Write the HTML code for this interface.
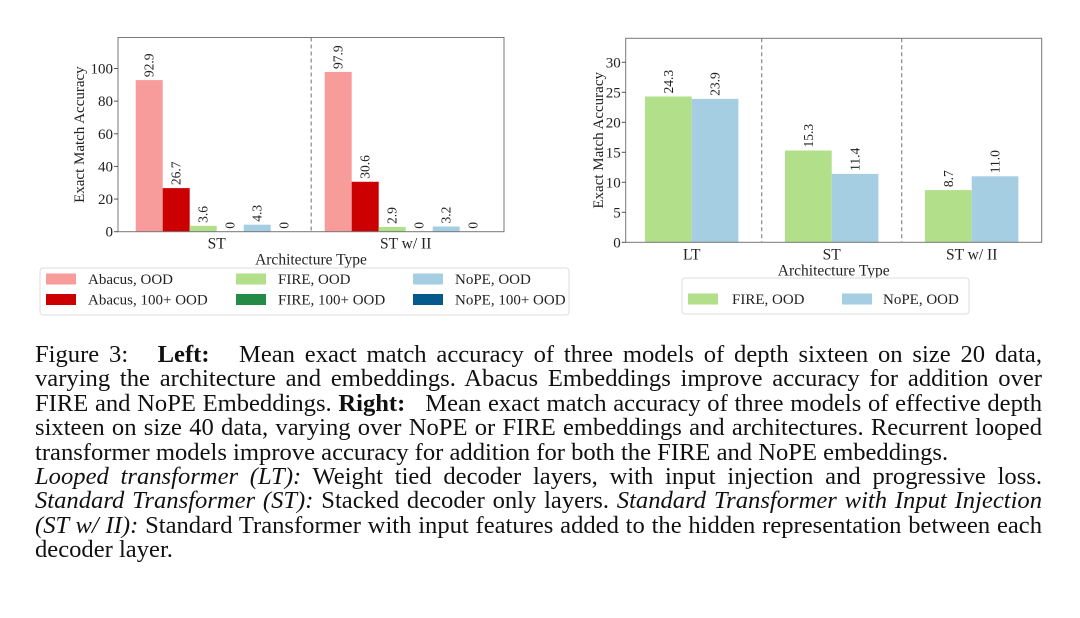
<!DOCTYPE html>
<html><head><meta charset="utf-8">
<style>
html,body{margin:0;padding:0;background:#fff;}
body{width:1080px;height:618px;position:relative;overflow:hidden;font-family:"Liberation Serif",serif;}
svg{position:absolute;left:0;top:0;}
svg text{font-family:"Liberation Serif",serif;fill:#222;}
.cap{position:absolute;left:35px;width:1007px;font-size:24.6px;line-height:24.4px;height:24.4px;color:#111;white-space:nowrap;}
.j{text-align:justify;text-align-last:justify;white-space:normal;}
</style></head>
<body>
<svg id="chart" width="1080" height="330"></svg>

<div class="cap j" style="top:343px">Figure 3: &nbsp; <b>Left:</b> &nbsp; Mean exact match accuracy of three models of depth sixteen on size 20 data,</div>
<div class="cap j" style="top:367.4px">varying the architecture and embeddings. Abacus Embeddings improve accuracy for addition over</div>
<div class="cap j" style="top:391.8px">FIRE and NoPE Embeddings. <b>Right:</b> &nbsp; Mean exact match accuracy of three models of effective depth</div>
<div class="cap j" style="top:416.2px">sixteen on size 40 data, varying over NoPE or FIRE embeddings and architectures. Recurrent looped</div>
<div class="cap" style="top:440.6px">transformer models improve accuracy for addition for both the FIRE and NoPE embeddings.</div>
<div class="cap j" style="top:465px"><i>Looped transformer (LT):</i> Weight tied decoder layers, with input injection and progressive loss.</div>
<div class="cap j" style="top:489.4px"><i>Standard Transformer (ST):</i> Stacked decoder only layers. <i>Standard Transformer with Input Injection</i></div>
<div class="cap j" style="top:513.8px"><i>(ST w/ II):</i> Standard Transformer with input features added to the hidden representation between each</div>
<div class="cap" style="top:538.2px">decoder layer.</div>

<script>
// Left chart data
const leftCategories = ["ST", "ST w/ II"];
const leftSeriesNames = ["Abacus, OOD", "Abacus, 100+ OOD", "FIRE, OOD", "FIRE, 100+ OOD", "NoPE, OOD", "NoPE, 100+ OOD"];
const leftValues = [
  [92.9, 97.9],
  [26.7, 30.6],
  [3.6, 2.9],
  [0, 0],
  [4.3, 3.2],
  [0, 0]
];
const leftTicks = [0, 20, 40, 60, 80, 100];
// Right chart data
const rightCategories = ["LT", "ST", "ST w/ II"];
const rightSeriesNames = ["FIRE, OOD", "NoPE, OOD"];
const rightValues = [
  [24.3, 15.3, 8.7],
  [23.9, 11.4, 11.0]
];
const rightTicks = [0, 5, 10, 15, 20, 25, 30];

const leftColors = ["#f89b9b", "#cc0000", "#b2df8a", "#238b45", "#a6cee3", "#045a8d"];
const rightColors = ["#b2df8a", "#a6cee3"];

const NS = "http://www.w3.org/2000/svg";
const svg = document.getElementById("chart");
function mk(tag, attrs, parent) {
  const e = document.createElementNS(NS, tag);
  for (const k in attrs) e.setAttribute(k, attrs[k]);
  (parent || svg).appendChild(e);
  return e;
}
function txt(s, attrs, parent) { const t = mk("text", attrs, parent); t.textContent = s; return t; }

function drawChart(o) {
  const g = mk("g", {});
  
  
  const yS = v => o.y0 - (v / o.ymax) * (o.y0 - o.top);
  const xS = i => o.c0 + i * o.step;
  const nS = o.values.length;
  const bw = o.barW;
  o.values.forEach((ser, s) => {
    ser.forEach((v, i) => {
      const x = xS(i) - nS * bw / 2 + s * bw;
      const r = mk("rect", {x: x, y: yS(v), width: bw, height: o.y0 - yS(v), fill: o.colors[s]}, g);
      
      
      const lx = x + bw / 2 + 4.5, ly = yS(v) - 3;
      const lab = txt(String(v === 0 ? "0" : v.toFixed(1)), {x: lx, y: ly, "font-size": 13.5, transform: "rotate(-90 " + lx + " " + ly + ")"}, g);
      
      
    });
  });
  for (let i = 0; i < o.cats.length - 1; i++) {
    const dx = xS(i) + o.step / 2;
    const d = mk("line", {x1: dx, x2: dx, y1: o.top, y2: o.y0, stroke: "#888", "stroke-width": 1.2, "stroke-dasharray": "4,3"}, g);
    
    
  }
  const box = mk("rect", {x: o.left, y: o.top, width: o.right - o.left, height: o.y0 - o.top, fill: "none", stroke: "#777", "stroke-width": 1}, g);
  
  
  o.ticks.forEach(t => {
    const y = yS(t);
    mk("line", {x1: o.left - 4, x2: o.left, y1: y, y2: y, stroke: "#555"}, g);
    const tl = txt(String(t), {x: o.left - 5, y: y + 5, "font-size": 15, "text-anchor": "end"}, g);
    
    
  });
  o.cats.forEach((c, i) => {
    const xl = txt(c, {x: xS(i), y: o.y0 + 17, "font-size": 15.5, "text-anchor": "middle"}, g);
    
    
  });
  const xt = txt("Architecture Type", {x: (o.left + o.right) / 2, y: o.y0 + 33, "font-size": 15.5, "text-anchor": "middle"}, g);
  
  
  const yx = o.ytx, yy = (o.top + o.y0) / 2;
  const yt = txt("Exact Match Accuracy", {x: yx, y: yy, "font-size": 15, "text-anchor": "middle", transform: "rotate(-90 " + yx + " " + yy + ")"}, g);
  
  
  return g;
}

drawChart({name: "left-chart", cats: leftCategories, series: leftSeriesNames, values: leftValues, colors: leftColors, ticks: leftTicks,
  left: 118, right: 504, top: 37.5, y0: 231.7, ymax: 119, c0: 216.7, step: 189, barW: 27, ytx: 84});
drawChart({name: "right-chart", cats: rightCategories, series: rightSeriesNames, values: rightValues, colors: rightColors, ticks: rightTicks,
  left: 625.7, right: 1041.7, top: 38.3, y0: 242.3, ymax: 34, c0: 691.7, step: 140, barW: 46.7, ytx: 603});

function legend(name, bx, by, bw, bh, items) {
  const g = mk("g", {});
  
  
  mk("rect", {x: bx, y: by, width: bw, height: bh, rx: 3, fill: "#fff", stroke: "#ddd", "stroke-width": 1}, g);
  items.forEach(it => {
    const e = mk("g", {}, g);
    
    
    mk("rect", {x: it.x, y: it.y - 5.5, width: 30, height: 11, fill: it.c}, e);
    txt(it.t, {x: it.tx, y: it.y + 5, "font-size": 15}, e);
  });
}
legend("left-legend", 40, 268, 529, 47, [
  {x: 46, y: 279, tx: 88, c: leftColors[0], t: leftSeriesNames[0]},
  {x: 46, y: 299.5, tx: 88, c: leftColors[1], t: leftSeriesNames[1]},
  {x: 236, y: 279, tx: 278, c: leftColors[2], t: leftSeriesNames[2]},
  {x: 236, y: 299.5, tx: 278, c: leftColors[3], t: leftSeriesNames[3]},
  {x: 413, y: 279, tx: 455, c: leftColors[4], t: leftSeriesNames[4]},
  {x: 413, y: 299.5, tx: 455, c: leftColors[5], t: leftSeriesNames[5]}
]);
legend("right-legend", 682, 278, 287, 36, [
  {x: 688, y: 299, tx: 732, c: rightColors[0], t: rightSeriesNames[0]},
  {x: 842, y: 299, tx: 883, c: rightColors[1], t: rightSeriesNames[1]}
]);
</script>
</body></html>
